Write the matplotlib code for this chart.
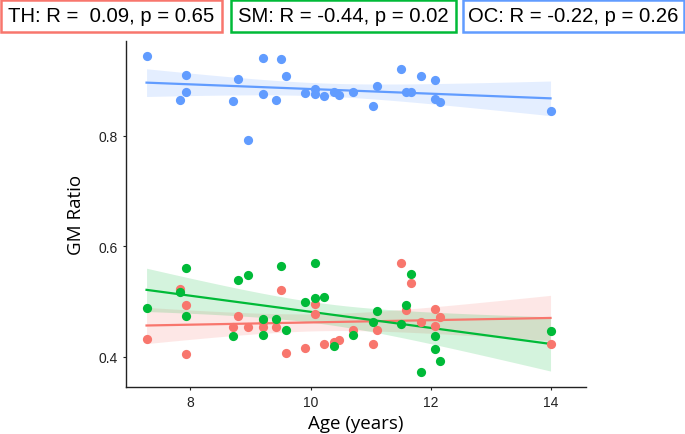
import numpy as np
import matplotlib; matplotlib.use("Agg"); import matplotlib.pyplot as plt
from matplotlib.patches import Rectangle

plt.rcParams["font.family"] = ["Liberation Sans", "DejaVu Sans"]

# ---- data (age in years, GM ratio)
age_th = [7.27, 7.83, 7.92, 7.92, 8.71, 8.79, 8.95, 9.20, 9.20, 9.43, 9.51, 9.59, 9.91, 10.07, 10.07,
          10.23, 10.39, 10.47, 10.71, 11.03, 11.11, 11.50, 11.58, 11.67, 11.83, 12.07, 12.07, 12.15, 13.99]
gm_th = [0.432, 0.523, 0.493, 0.405, 0.454, 0.473, 0.453, 0.463, 0.453, 0.454, 0.520, 0.407, 0.415, 0.496, 0.477,
         0.422, 0.427, 0.431, 0.449, 0.423, 0.448, 0.570, 0.484, 0.534, 0.463, 0.486, 0.456, 0.472, 0.423]

age_sm = [7.27, 7.83, 7.92, 7.92, 8.71, 8.79, 8.95, 9.20, 9.20, 9.43, 9.51, 9.59, 9.91, 10.07,
          10.07, 10.23, 10.39, 10.71, 11.03, 11.11, 11.50, 11.58, 11.67, 11.83, 12.07, 12.07, 12.15, 13.99]
gm_sm = [0.488, 0.517, 0.560, 0.473, 0.438, 0.539, 0.548, 0.469, 0.440, 0.469, 0.564, 0.448, 0.498, 0.569,
         0.507, 0.508, 0.419, 0.439, 0.463, 0.482, 0.459, 0.494, 0.550, 0.373, 0.437, 0.413, 0.392, 0.447]

age_oc = [7.27, 7.83, 7.92, 7.92, 8.71, 8.79, 8.95, 9.20, 9.20, 9.43, 9.51, 9.59, 9.91, 10.07, 10.07,
          10.23, 10.39, 10.47, 10.71, 11.03, 11.11, 11.50, 11.58, 11.67, 11.83, 12.07, 12.07, 12.15, 13.99]
gm_oc = [0.945, 0.864, 0.910, 0.879, 0.862, 0.903, 0.793, 0.940, 0.876, 0.864, 0.939, 0.908, 0.878, 0.885, 0.876,
         0.872, 0.880, 0.873, 0.879, 0.854, 0.890, 0.921, 0.879, 0.879, 0.908, 0.900, 0.867, 0.861, 0.844]

labels = ["TH: R =  0.09, p = 0.65", "SM: R = -0.44, p = 0.02", "OC: R = -0.22, p = 0.26"]
colors = ["#F8766D", "#00BA38", "#619CFF"]
xticks = [8, 10, 12, 14]
yticks = [0.4, 0.6, 0.8]

def lm_band(x, y, xs, t=2.05):
    x = np.asarray(x); y = np.asarray(y); n = len(x)
    b, a = np.polyfit(x, y, 1)
    res = y - (a + b * x); s = np.sqrt((res**2).sum() / (n - 2))
    se = s * np.sqrt(1 / n + (xs - x.mean())**2 / ((x - x.mean())**2).sum())
    fit = a + b * xs
    return fit, fit - t * se, fit + t * se

fig = plt.figure(figsize=(6.85, 4.35), dpi=100)
ax = fig.add_axes([125.5 / 685, 1 - 388 / 435, (586 - 125.5) / 685, (388 - 41.7) / 435])

series = [(age_th, gm_th), (age_sm, gm_sm), (age_oc, gm_oc)]
for (x, y), c in zip(series, colors):
    xs = np.linspace(min(x), max(x), 80)
    fit, lo, hi = lm_band(x, y, xs)
    ax.fill_between(xs, lo, hi, color=c, alpha=0.17, lw=0, zorder=1)
    ax.plot(xs, fit, color=c, lw=1.6, zorder=2)
for (x, y), c in zip(series, colors):
    ax.scatter(x, y, s=44, color=c, lw=0, zorder=3)

ax.set_xlim(6.92, 14.58)
ax.set_ylim(0.345, 0.972)
ax.set_xticks(xticks); ax.set_yticks(yticks)
ax.set_yticklabels([f"{v:.1f}" for v in yticks])
for s in ("top", "right"):
    ax.spines[s].set_visible(False)
for s in ("left", "bottom"):
    ax.spines[s].set_linewidth(1.0); ax.spines[s].set_color("#222222")
ax.tick_params(length=2.5, width=0.8, labelsize=10, colors="#222222", pad=3)
ax.set_xlabel("Age (years)", fontsize=13.5, family=["Open Sans", "DejaVu Sans"], labelpad=4)
ax.set_ylabel("GM Ratio", fontsize=13.5, family=["Open Sans", "DejaVu Sans"], labelpad=10)

# stat boxes along the top
boxes = [(1, 222), (231, 456), (463, 684)]
for (x0, x1), lab, c in zip(boxes, labels, colors):
    fig.patches.append(Rectangle((x0 / 685, 1 - 32.5 / 435), (x1 - x0) / 685, 31.5 / 435,
                                 transform=fig.transFigure, fill=False, ec=c, lw=1.8))
    fig.text((x0 + x1) / 2 / 685, 1 - 17 / 435, lab, ha="center", va="center", fontsize=14.6)

fig.savefig("out.png", dpi=100)
